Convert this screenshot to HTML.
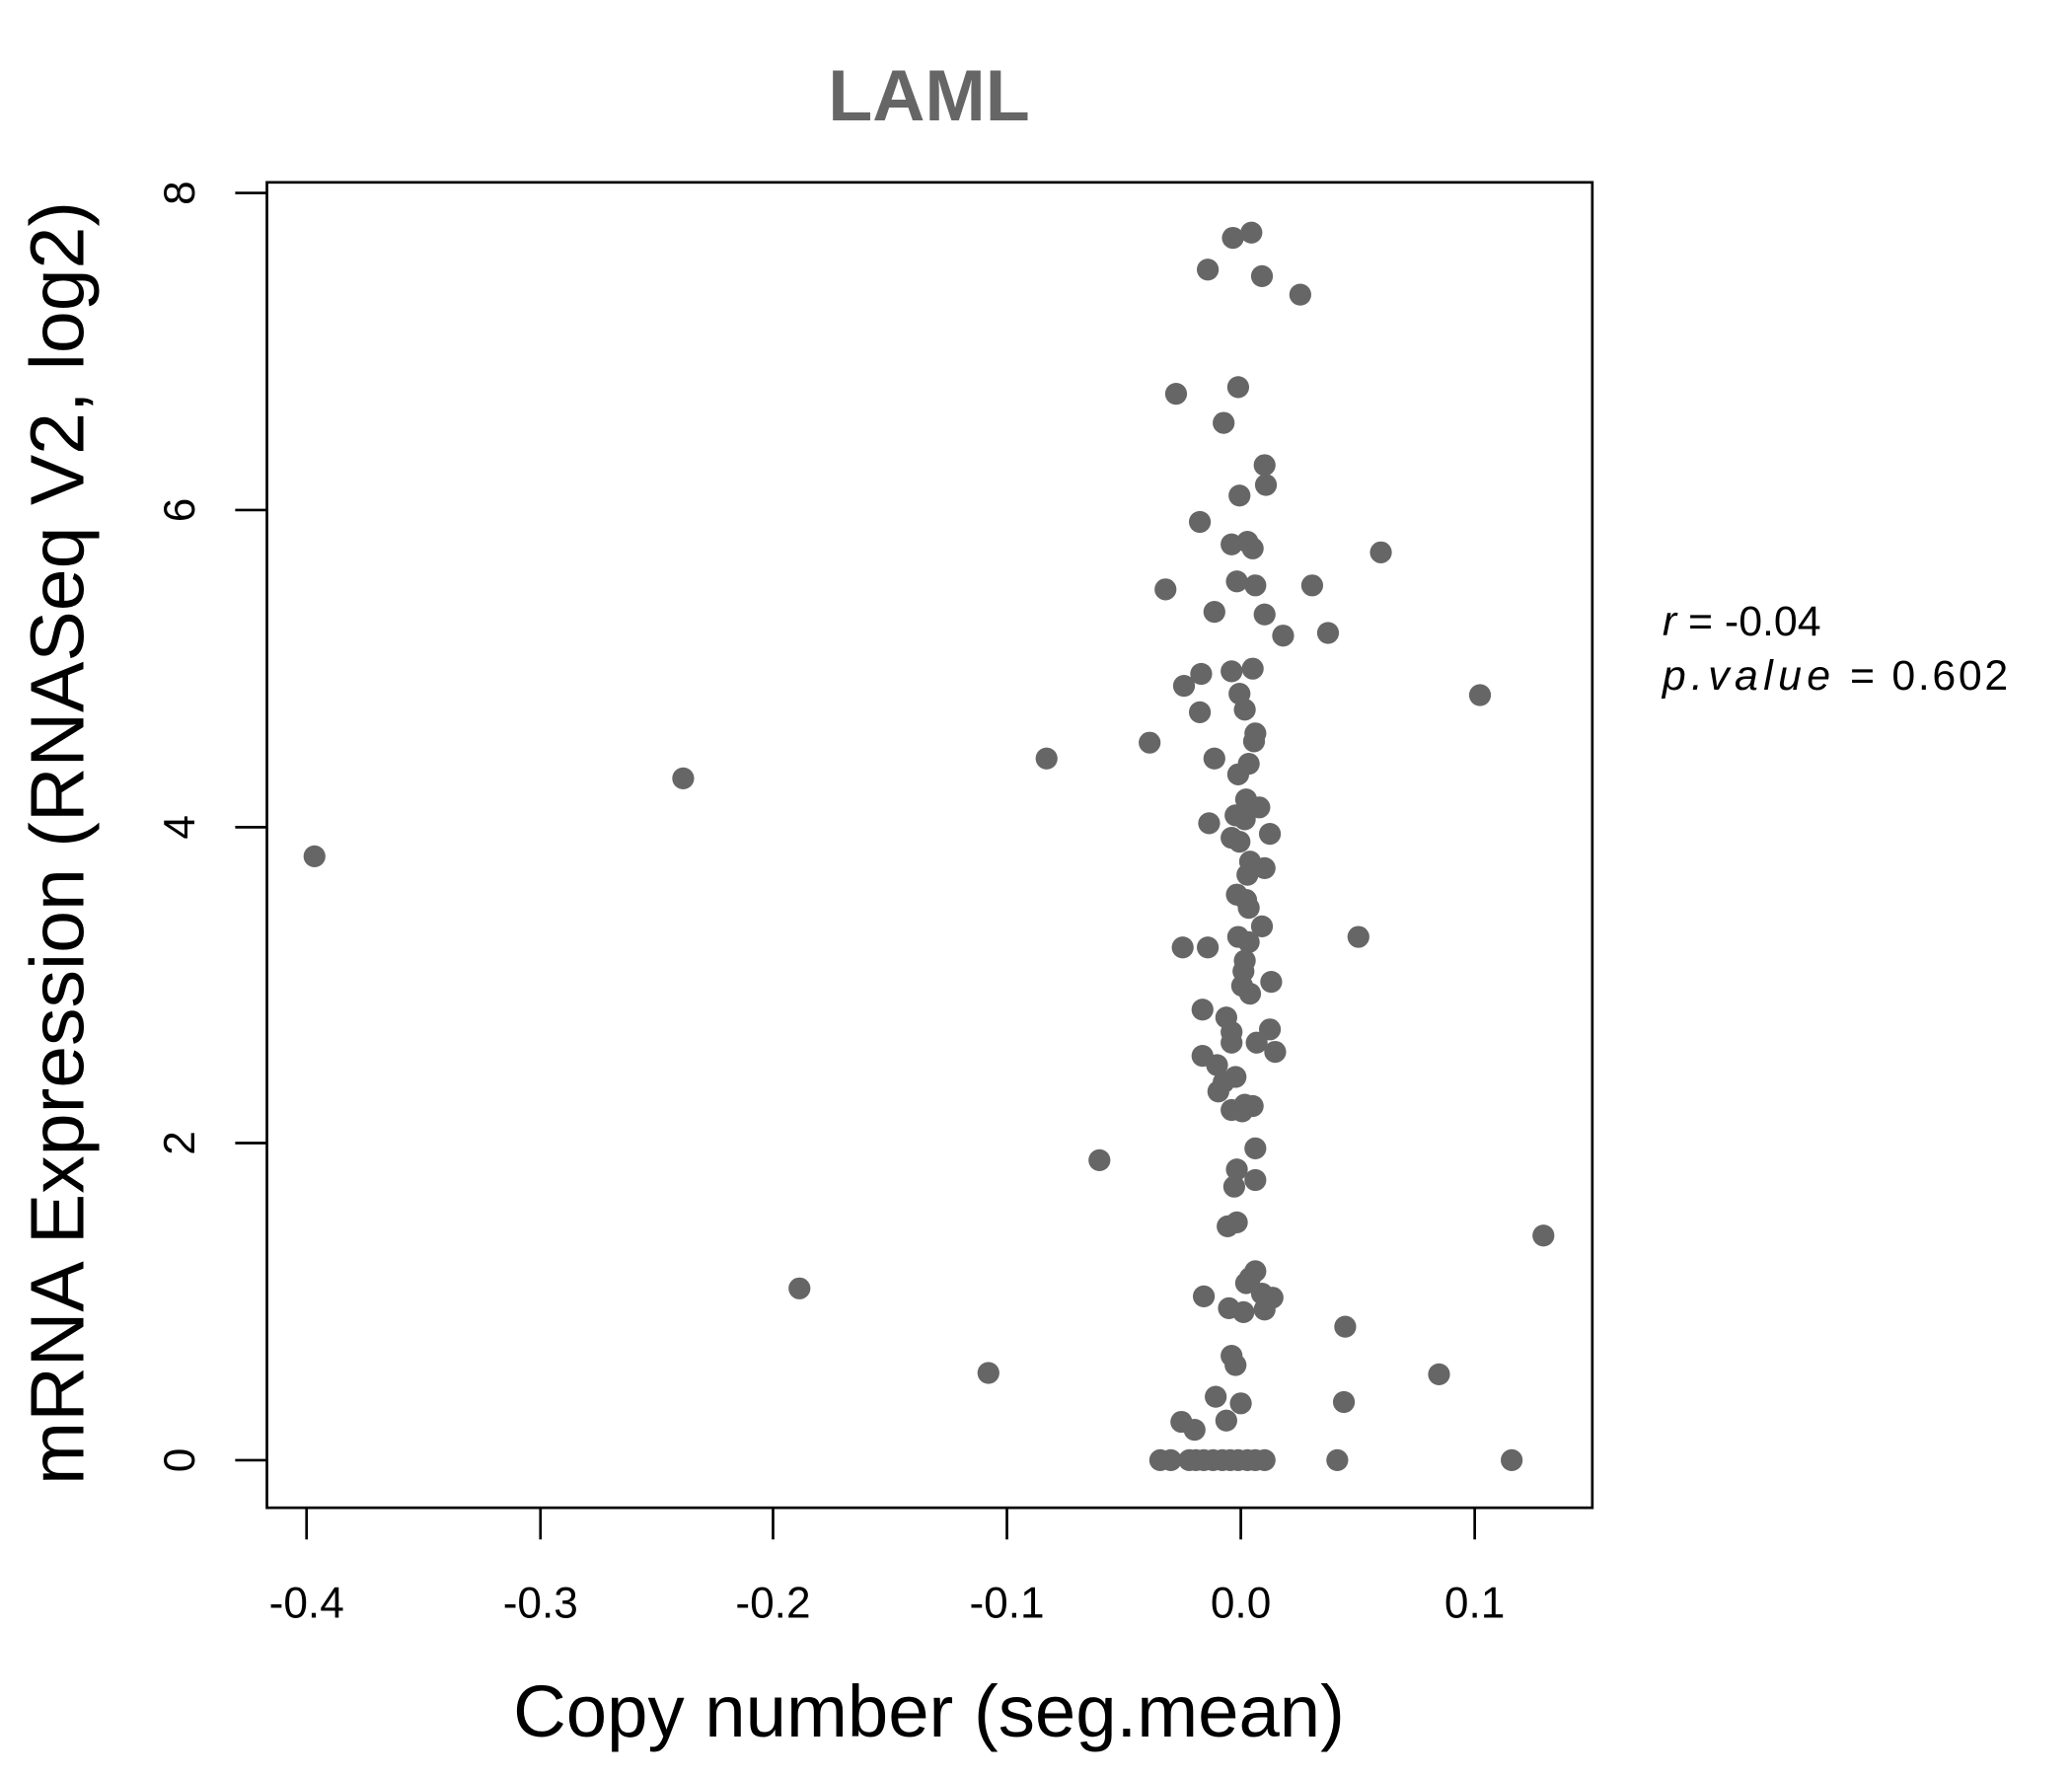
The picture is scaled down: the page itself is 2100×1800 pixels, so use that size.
<!DOCTYPE html>
<html><head><meta charset="utf-8"><style>html,body{margin:0;padding:0;background:#fff}svg{display:block}</style></head>
<body>
<svg width="2100" height="1800" viewBox="0 0 1568 1344" xmlns="http://www.w3.org/2000/svg" font-family="Liberation Sans, sans-serif">
<rect width="1568" height="1344" fill="#fff"/>
<text x="703" y="91" font-size="55" font-weight="bold" fill="#666" text-anchor="middle">LAML</text>
<rect x="202" y="138" width="1003" height="1003" fill="none" stroke="#000" stroke-width="2"/>
<g stroke="#000" stroke-width="2">
<line x1="232" y1="1141" x2="232" y2="1165"/><line x1="409" y1="1141" x2="409" y2="1165"/><line x1="585" y1="1141" x2="585" y2="1165"/><line x1="762" y1="1141" x2="762" y2="1165"/><line x1="939" y1="1141" x2="939" y2="1165"/><line x1="1116" y1="1141" x2="1116" y2="1165"/>
<line x1="202" y1="1105" x2="178" y2="1105"/><line x1="202" y1="865" x2="178" y2="865"/><line x1="202" y1="626" x2="178" y2="626"/><line x1="202" y1="386" x2="178" y2="386"/><line x1="202" y1="146" x2="178" y2="146"/>
</g>
<g font-size="33" text-anchor="middle" fill="#000">
<text x="232" y="1224">-0.4</text><text x="409" y="1224">-0.3</text><text x="585" y="1224">-0.2</text><text x="762" y="1224">-0.1</text><text x="939" y="1224">0.0</text><text x="1116" y="1224">0.1</text>
<text transform="translate(147,1105) rotate(-90)">0</text><text transform="translate(147,865) rotate(-90)">2</text><text transform="translate(147,626) rotate(-90)">4</text><text transform="translate(147,386) rotate(-90)">6</text><text transform="translate(147,146) rotate(-90)">8</text>
</g>
<text x="703" y="1314" font-size="55.5" text-anchor="middle">Copy number (seg.mean)</text>
<text transform="translate(63,638) rotate(-90)" font-size="57.5" text-anchor="middle">mRNA Expression (RNASeq V2, log2)</text>
<text x="1258" y="481" font-size="32"><tspan font-style="italic">r</tspan> = -0.04</text>
<text x="1258" y="522" font-size="32" letter-spacing="2"><tspan font-style="italic" letter-spacing="4">p.value</tspan> = 0.602</text>
<g fill="#666">
<circle cx="947" cy="176" r="8.3"/><circle cx="933" cy="180" r="8.3"/><circle cx="914" cy="204" r="8.3"/><circle cx="955" cy="209" r="8.3"/><circle cx="984" cy="223" r="8.3"/><circle cx="890" cy="298" r="8.3"/><circle cx="937" cy="293" r="8.3"/><circle cx="926" cy="320" r="8.3"/><circle cx="957" cy="352" r="8.3"/><circle cx="958" cy="367" r="8.3"/><circle cx="938" cy="375" r="8.3"/><circle cx="908" cy="395" r="8.3"/><circle cx="932" cy="412" r="8.3"/><circle cx="944" cy="410" r="8.3"/><circle cx="948" cy="415" r="8.3"/><circle cx="1045" cy="418" r="8.3"/><circle cx="936" cy="440" r="8.3"/><circle cx="950" cy="443" r="8.3"/><circle cx="993" cy="443" r="8.3"/><circle cx="882" cy="446" r="8.3"/><circle cx="919" cy="463" r="8.3"/><circle cx="957" cy="465" r="8.3"/><circle cx="971" cy="481" r="8.3"/><circle cx="1005" cy="479" r="8.3"/><circle cx="932" cy="508" r="8.3"/><circle cx="909" cy="510" r="8.3"/><circle cx="948" cy="506" r="8.3"/><circle cx="896" cy="519" r="8.3"/><circle cx="938" cy="525" r="8.3"/><circle cx="1120" cy="526" r="8.3"/><circle cx="908" cy="539" r="8.3"/><circle cx="942" cy="537" r="8.3"/><circle cx="950" cy="555" r="8.3"/><circle cx="949" cy="561" r="8.3"/><circle cx="870" cy="562" r="8.3"/><circle cx="792" cy="574" r="8.3"/><circle cx="919" cy="574" r="8.3"/><circle cx="945" cy="578" r="8.3"/><circle cx="937" cy="586" r="8.3"/><circle cx="517" cy="589" r="8.3"/><circle cx="943" cy="605" r="8.3"/><circle cx="953" cy="611" r="8.3"/><circle cx="935" cy="617" r="8.3"/><circle cx="942" cy="620" r="8.3"/><circle cx="915" cy="623" r="8.3"/><circle cx="961" cy="631" r="8.3"/><circle cx="932" cy="634" r="8.3"/><circle cx="938" cy="637" r="8.3"/><circle cx="238" cy="648" r="8.3"/><circle cx="946" cy="652" r="8.3"/><circle cx="957" cy="657" r="8.3"/><circle cx="944" cy="662" r="8.3"/><circle cx="936" cy="677" r="8.3"/><circle cx="943" cy="681" r="8.3"/><circle cx="945" cy="687" r="8.3"/><circle cx="955" cy="701" r="8.3"/><circle cx="937" cy="709" r="8.3"/><circle cx="1028" cy="709" r="8.3"/><circle cx="945" cy="713" r="8.3"/><circle cx="895" cy="717" r="8.3"/><circle cx="914" cy="717" r="8.3"/><circle cx="942" cy="727" r="8.3"/><circle cx="941" cy="735" r="8.3"/><circle cx="962" cy="743" r="8.3"/><circle cx="940" cy="746" r="8.3"/><circle cx="946" cy="752" r="8.3"/><circle cx="910" cy="764" r="8.3"/><circle cx="928" cy="770" r="8.3"/><circle cx="961" cy="779" r="8.3"/><circle cx="932" cy="781" r="8.3"/><circle cx="932" cy="789" r="8.3"/><circle cx="951" cy="789" r="8.3"/><circle cx="965" cy="796" r="8.3"/><circle cx="910" cy="799" r="8.3"/><circle cx="921" cy="806" r="8.3"/><circle cx="935" cy="815" r="8.3"/><circle cx="926" cy="819" r="8.3"/><circle cx="922" cy="826" r="8.3"/><circle cx="942" cy="836" r="8.3"/><circle cx="948" cy="837" r="8.3"/><circle cx="932" cy="840" r="8.3"/><circle cx="940" cy="841" r="8.3"/><circle cx="950" cy="869" r="8.3"/><circle cx="832" cy="878" r="8.3"/><circle cx="936" cy="885" r="8.3"/><circle cx="950" cy="893" r="8.3"/><circle cx="934" cy="898" r="8.3"/><circle cx="936" cy="925" r="8.3"/><circle cx="929" cy="928" r="8.3"/><circle cx="1168" cy="935" r="8.3"/><circle cx="950" cy="962" r="8.3"/><circle cx="946" cy="967" r="8.3"/><circle cx="943" cy="971" r="8.3"/><circle cx="605" cy="975" r="8.3"/><circle cx="911" cy="981" r="8.3"/><circle cx="955" cy="979" r="8.3"/><circle cx="963" cy="982" r="8.3"/><circle cx="930" cy="990" r="8.3"/><circle cx="941" cy="993" r="8.3"/><circle cx="957" cy="991" r="8.3"/><circle cx="1018" cy="1004" r="8.3"/><circle cx="932" cy="1026" r="8.3"/><circle cx="935" cy="1033" r="8.3"/><circle cx="748" cy="1039" r="8.3"/><circle cx="1089" cy="1040" r="8.3"/><circle cx="920" cy="1057" r="8.3"/><circle cx="939" cy="1062" r="8.3"/><circle cx="1017" cy="1061" r="8.3"/><circle cx="894" cy="1076" r="8.3"/><circle cx="928" cy="1075" r="8.3"/><circle cx="904" cy="1082" r="8.3"/><circle cx="1012" cy="1105" r="8.3"/><circle cx="1144" cy="1105" r="8.3"/>
<circle cx="878" cy="1105" r="8.3"/><circle cx="886" cy="1105" r="8.3"/><circle cx="900" cy="1105" r="8.3"/><circle cx="905" cy="1105" r="8.3"/><circle cx="911" cy="1105" r="8.3"/><circle cx="918" cy="1105" r="8.3"/><circle cx="925" cy="1105" r="8.3"/><circle cx="931" cy="1105" r="8.3"/><circle cx="937" cy="1105" r="8.3"/><circle cx="944" cy="1105" r="8.3"/><circle cx="950" cy="1105" r="8.3"/><circle cx="957" cy="1105" r="8.3"/>
</g>
</svg>
</body></html>
